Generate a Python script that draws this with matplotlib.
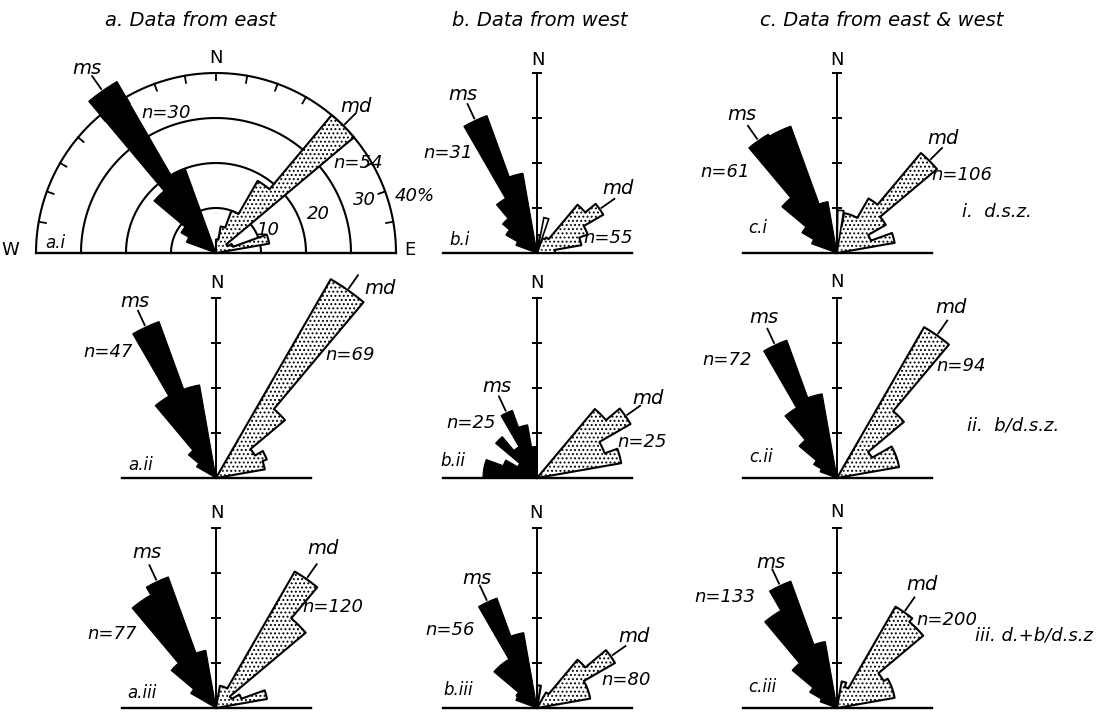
import numpy as np
import matplotlib.pyplot as plt

W, H = 1102, 713
PX = 4.5  # pixels per percent on every rose

# 10 degree classes, centre azimuths (clockwise from N)
sectors = np.arange(-85, 90, 10)

# percentages per class, W (-90) -> N (0) -> E (+90)
ms_ai = [0, 0, 7, 9, 18, 44, 20, 0, 0, 0, 0, 0, 0, 0, 0, 0, 0, 0]
md_ai = [0, 0, 0, 0, 0, 0, 0, 0, 0, 3, 6, 10, 18.5, 40, 3, 4, 12, 0]
ms_bi = [0, 0, 5, 8, 10, 14, 32.5, 18, 0, 0, 0, 0, 0, 0, 0, 0, 0, 0]
md_bi = [0, 0, 0, 0, 0, 0, 0, 0, 0, 4, 0, 3.5, 4, 14, 17, 12, 10, 4]
ms_ci = [0, 0, 6, 9, 16, 30.5, 30, 11.6, 0, 0, 0, 0, 0, 0, 0, 0, 0, 0]
md_ci = [0, 0, 0, 0, 0, 0, 0, 0, 0, 6, 9, 9, 14, 29, 12.5, 8, 13, 0]

ms_aii = [0, 0, 0, 5, 8, 21, 37, 21, 0, 0, 0, 0, 0, 0, 0, 0, 0, 0]
md_aii = [0, 0, 0, 0, 0, 0, 0, 0, 0, 0, 0, 0, 51, 20, 10, 12, 11, 0]
ms_bii = [12, 12, 8, 5, 12, 8, 16, 12, 7, 0, 0, 0, 0, 0, 0, 0, 0, 0]
md_bii = [0, 0, 0, 0, 0, 0, 0, 0, 0, 0, 0, 0, 0, 20, 24, 16, 19, 0]
ms_cii = [0, 0, 4, 6, 11, 18, 32.6, 19, 0, 0, 0, 0, 0, 0, 0, 0, 0, 0]
md_cii = [0, 0, 0, 0, 0, 0, 0, 0, 0, 0, 0, 0, 38.7, 19.4, 9, 14, 14, 0]

ms_aiii = [0, 0, 0, 6.5, 13, 29, 31, 13, 0, 0, 0, 0, 0, 0, 0, 0, 0, 0]
md_aiii = [0, 0, 0, 0, 0, 0, 0, 0, 0, 0, 5, 5, 35, 26, 4, 6, 11.5, 0]
ms_biii = [0, 0, 5, 5.4, 12.5, 12.5, 26, 17, 0, 0, 0, 0, 0, 0, 0, 0, 0, 0]
md_biii = [0, 0, 0, 0, 0, 0, 0, 0, 0, 5, 0, 0, 4, 14, 20, 12, 12, 0]
ms_ciii = [0, 0, 4, 7, 13, 25, 30, 15, 0, 0, 0, 0, 0, 0, 0, 0, 0, 0]
md_ciii = [0, 0, 0, 0, 0, 0, 0, 0, 0, 0, 6, 5, 26, 25, 12, 13, 13, 0]

# small open (white) classes
white_bi = [0, 0, 0, 0, 0, 0, 0, 0, 0, 0, 8, 0, 0, 0, 0, 0, 0, 0]
white_ci = [0, 0, 0, 0, 0, 0, 0, 0, 0, 9.5, 0, 0, 0, 0, 0, 0, 0, 0]
white_biii = [0, 0, 0, 0, 0, 0, 0, 0, 0, 5, 0, 0, 0, 0, 0, 0, 0, 0]

n_ms = [30, 31, 61, 47, 25, 72, 77, 56, 133]
n_md = [54, 55, 106, 69, 25, 94, 120, 80, 200]
panel_names = ["a.i", "b.i", "c.i", "a.ii", "b.ii", "c.ii", "a.iii", "b.iii", "c.iii"]
col_titles = ["a. Data from east", "b. Data from west", "c. Data from east & west"]
row_titles = ["i.  d.s.z.", "ii.  b/d.s.z.", "iii. d.+b/d.s.z"]

plt.rcParams["hatch.linewidth"] = 0.9
fig = plt.figure(figsize=(W / 100, H / 100), dpi=100)


def fx(x):
    return x / W


def fy(y):
    return 1 - y / H


def make_axes(ox, oy, rmax=24):
    s = 2 * rmax * PX
    ax = fig.add_axes([(ox - s / 2) / W, (H - oy - s / 4) / H, s / W, s / H],
                      projection="polar")
    ax.set_theta_zero_location("N")
    ax.set_theta_direction(-1)
    ax.set_thetamin(-90)
    ax.set_thetamax(90)
    ax.set_ylim(0, rmax)
    ax.axis("off")
    ax.patch.set_visible(False)
    return ax


def step_outline(vals):
    t, r = [-90.0], [0.0]
    for c, v in zip(sectors, vals):
        a = np.linspace(c - 5, c + 5, 12)
        t += list(a)
        r += [v] * 12
    t.append(90.0)
    r.append(0.0)
    return np.deg2rad(t), r


def rose(ax, ms, md, white=None):
    th = np.deg2rad(sectors)
    w = np.deg2rad(10)
    ax.bar(th, md, width=w, color="white", hatch="....", edgecolor="black",
           linewidth=0, clip_on=False, zorder=2)
    t, r = step_outline(md)
    ax.plot(t, r, color="black", lw=1.5, clip_on=False, zorder=3)
    ax.bar(th, ms, width=w, color="black", edgecolor="black",
           linewidth=0.8, clip_on=False, zorder=4)
    if white is not None:
        ax.bar(th, white, width=w * 0.8, color="white", edgecolor="black",
               linewidth=1.2, clip_on=False, zorder=5)
    # leader lines to the ms / md labels
    for vals in (ms, md):
        i = int(np.argmax(vals))
        v = vals[i]
        ax.plot([th[i], th[i]], [v + 0.5, v + 4], color="black", lw=1.3,
                clip_on=False, zorder=3)


def north_axis(ax):
    ax.plot([0, 0], [0, 40], color="black", lw=1.4, clip_on=False, zorder=1)
    ax.plot([0, 0, 0, 0], [10, 20, 30, 40], ls="none", marker="_",
            markersize=7, markeredgewidth=1.4, color="black", clip_on=False,
            zorder=1)
    hp = np.pi / 2
    ax.plot([-hp, -hp, hp, hp], [21, 0, 0, 21], color="black", lw=1.7,
            clip_on=False, zorder=1)


origins = [(216, 253), (537, 253), (837, 253),
           (216, 478), (537, 478), (837, 478),
           (216, 708), (537, 708), (837, 708)]
ms_all = [ms_ai, ms_bi, ms_ci, ms_aii, ms_bii, ms_cii, ms_aiii, ms_biii, ms_ciii]
md_all = [md_ai, md_bi, md_ci, md_aii, md_bii, md_cii, md_aiii, md_biii, md_ciii]
white_all = [None, white_bi, white_ci, None, None, None, None, white_biii, None]

for k, (ox, oy) in enumerate(origins):
    ax = make_axes(ox, oy)
    if k == 0:
        # full polar frame of the first rose
        t = np.deg2rad(np.linspace(-90, 90, 181))
        for rr in (10, 20, 30, 40):
            ax.plot(t, [rr] * len(t), color="black", lw=1.5, clip_on=False,
                    zorder=1)
        hp = np.pi / 2
        ax.plot([-hp, -hp, hp, hp], [40, 0, 0, 40], color="black", lw=1.7,
                clip_on=False, zorder=1)
        for a in range(-80, 90, 10):
            ax.plot(np.deg2rad([a, a]), [38.4, 40], color="black", lw=1.3,
                    clip_on=False, zorder=1)
    else:
        north_axis(ax)
    rose(ax, ms_all[k], md_all[k], white_all[k])

# label positions in reference pixels (x, y from top)
txt = dict(style="italic", ha="center", va="center", color="black")
N_pos = [(216, 58), (538, 60), (837, 60), (217, 283), (537, 283), (837, 282),
         (217, 513), (536, 513), (837, 512)]
ms_pos = [(87, 68), (463, 95), (742, 115), (135, 302), (497, 386), (764, 318),
          (147, 553), (477, 578), (771, 563)]
md_pos = [(356, 107), (618, 188), (943, 138), (380, 288), (648, 399), (951, 307),
          (323, 548), (634, 636), (922, 585)]
nms_pos = [(166, 113), (448, 153), (725, 172), (108, 352), (471, 423), (727, 360),
           (112, 634), (450, 630), (725, 597)]
nmd_pos = [(358, 163), (608, 238), (962, 175), (350, 355), (642, 442), (961, 366),
           (333, 607), (626, 680), (947, 620)]
name_pos = [(55, 243), (460, 240), (758, 228), (141, 465), (453, 461), (761, 457),
            (142, 693), (458, 690), (762, 687)]

for k in range(9):
    fig.text(fx(N_pos[k][0]), fy(N_pos[k][1]), "N", ha="center", va="center",
             fontsize=13)
    fig.text(fx(ms_pos[k][0]), fy(ms_pos[k][1]), "ms", fontsize=14, **txt)
    fig.text(fx(md_pos[k][0]), fy(md_pos[k][1]), "md", fontsize=14, **txt)
    fig.text(fx(nms_pos[k][0]), fy(nms_pos[k][1]), "n=%d" % n_ms[k],
             fontsize=13, **txt)
    fig.text(fx(nmd_pos[k][0]), fy(nmd_pos[k][1]), "n=%d" % n_md[k],
             fontsize=13, **txt)
    fig.text(fx(name_pos[k][0]), fy(name_pos[k][1]), panel_names[k],
             fontsize=12, **txt)

for x, s in zip([191, 540, 882], col_titles):
    fig.text(fx(x), fy(20), s, fontsize=14, **txt)

for (x, y), s in zip([(962, 212), (967, 426), (975, 635)], row_titles):
    fig.text(fx(x), fy(y), s, fontsize=13, style="italic", ha="left",
             va="center")

# scale of the first rose
fig.text(fx(10), fy(250), "W", ha="center", va="center", fontsize=13)
fig.text(fx(410), fy(250), "E", ha="center", va="center", fontsize=13)
for (x, y), s in zip([(268, 230), (318, 214), (364, 200), (415, 196)],
                     ["10", "20", "30", "40%"]):
    fig.text(fx(x), fy(y), s, fontsize=13, **txt)

fig.savefig("out.png", dpi=100, facecolor="white")
